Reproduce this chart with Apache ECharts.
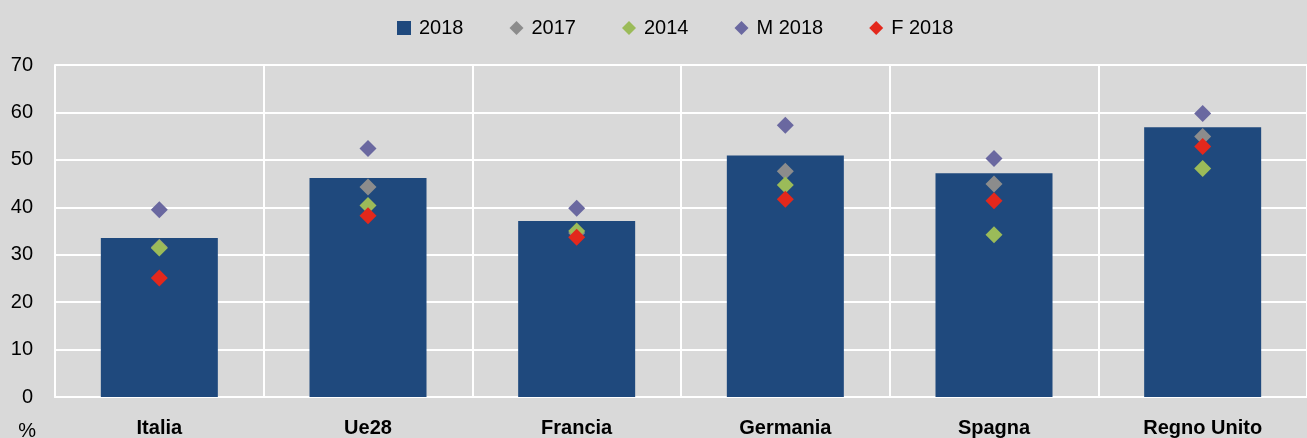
<!DOCTYPE html>
<html lang="it">
<head>
  <meta charset="UTF-8">
  <title>Chart</title>
  <script src="https://cdn.jsdelivr.net/npm/echarts@6/dist/echarts.min.js"></script>
  <style>
    html, body { margin: 0; padding: 0; background: #d9d9d9; }
    #chart { width: 1307px; height: 438px; }
  </style>
</head>
<body>
  <div id="chart"></div>
  <script>
    // data
    const categories = ['Italia', 'Ue28', 'Francia', 'Germania', 'Spagna', 'Regno Unito'];
    const yTicks = [0, 10, 20, 30, 40, 50, 60, 70];
    const v2018 = [33.5, 46.2, 37.1, 50.9, 47.2, 56.9];
    const v2017 = [31.6, 44.3, 34.6, 47.6, 44.9, 54.9];
    const v2014 = [31.4, 40.4, 35.0, 44.7, 34.2, 48.2];
    const m2018 = [39.5, 52.4, 39.8, 57.3, 50.3, 59.8];
    const f2018 = [25.1, 38.2, 33.7, 41.7, 41.4, 52.8];

    const chart = echarts.init(document.getElementById('chart'));
    const font = '"Liberation Sans", Arial, sans-serif';

    function dots(name, data, color) {
      return {
        name: name,
        type: 'scatter',
        data: data,
        symbol: 'diamond',
        symbolSize: 17,
        itemStyle: { color: color, opacity: 1 },
        z: 3
      };
    }

    const option = {
      backgroundColor: '#d9d9d9',
      animation: false,
      legend: {
        top: 13,
        left: 392,
        itemGap: 46,
        itemWidth: 14,
        itemHeight: 14,
        textStyle: { fontFamily: font, fontSize: 20, color: '#000', padding: [0, 0, 0, 3] },
        data: [
          { name: '2018', icon: 'rect' },
          { name: '2017', icon: 'diamond' },
          { name: '2014', icon: 'diamond' },
          { name: 'M 2018', icon: 'diamond' },
          { name: 'F 2018', icon: 'diamond' }
        ]
      },
      grid: { left: 55, right: 0, top: 65, bottom: 41, outerBoundsMode: 'none' },
      xAxis: {
        type: 'category',
        data: categories,
        axisLine: { lineStyle: { color: '#fff', width: 2 } },
        axisTick: { show: false },
        splitLine: { show: true, lineStyle: { color: '#fff', width: 2 } },
        axisLabel: { fontFamily: font, fontSize: 20, fontWeight: 'bold', color: '#000', margin: 21 }
      },
      yAxis: {
        type: 'value',
        min: yTicks[0],
        max: yTicks[yTicks.length - 1],
        interval: 10,
        name: '%',
        nameLocation: 'start',
        nameGap: 24,
        nameTextStyle: { fontFamily: font, fontSize: 20, color: '#000', align: 'right', padding: [0, 19, 0, 0] },
        axisLine: { show: true, lineStyle: { color: '#fff', width: 2 } },
        axisTick: { show: false },
        splitLine: { lineStyle: { color: '#fff', width: 2 } },
        axisLabel: { fontFamily: font, fontSize: 20, color: '#000', margin: 22 }
      },
      series: [
        {
          name: '2018',
          type: 'bar',
          data: v2018,
          barWidth: 117,
          itemStyle: { color: '#1f497d' },
          z: 2
        },
        dots('2017', v2017, '#8c8c8c'),
        dots('2014', v2014, '#9bbb59'),
        dots('M 2018', m2018, '#6a68a0'),
        dots('F 2018', f2018, '#e3281c')
      ]
    };

    chart.setOption(option);
  </script>
</body>
</html>
